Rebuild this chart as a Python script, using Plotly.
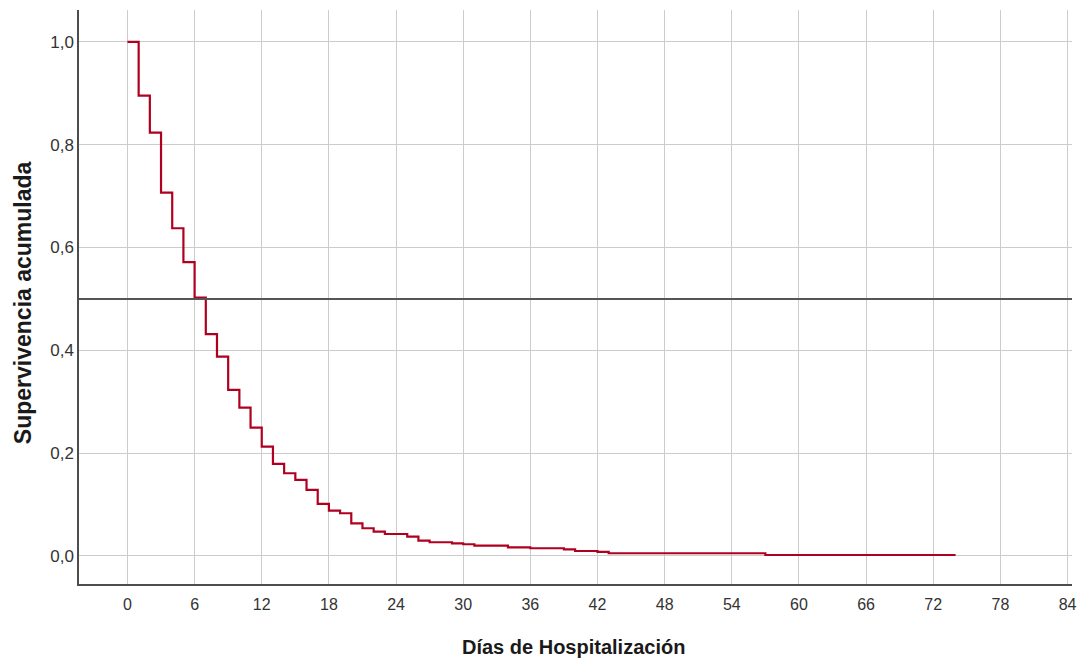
import plotly.graph_objects as go

dias = [0, 1, 2, 3, 4, 5, 6, 7, 8, 9, 10, 11, 12, 13, 14, 15, 16, 17, 18, 19,
        20, 21, 22, 23, 25, 26, 27, 29, 30, 31, 34, 36, 39, 40, 42, 43, 57, 74]
supervivencia = [1.0, 0.8955, 0.8236, 0.7068, 0.6375, 0.5714, 0.5026, 0.4315,
                 0.3877, 0.3230, 0.2885, 0.2496, 0.2126, 0.1790, 0.1609, 0.1479,
                 0.1284, 0.1012, 0.0881, 0.0831, 0.0636, 0.0539, 0.0473, 0.0428,
                 0.0375, 0.0298, 0.0267, 0.0247, 0.0228, 0.0200, 0.0169, 0.0150,
                 0.0130, 0.0097, 0.0078, 0.0053, 0.0019, 0.0019]
x_ticks = list(range(0, 85, 6))
y_ticks = [0.0, 0.2, 0.4, 0.6, 0.8, 1.0]
mediana_ref = 0.5
titulo_x = "Días de Hospitalización"
titulo_y = "Supervivencia acumulada"

fig = go.Figure()
fig.add_trace(go.Scatter(
    x=dias, y=supervivencia, mode="lines", line_shape="hv",
    line=dict(color="#b00020", width=2.2), showlegend=False, hoverinfo="x+y"))

fig.add_hline(y=mediana_ref, line=dict(color="#555555", width=2), layer="above")

fuente = "Liberation Sans, Arial, sans-serif"

fig.update_layout(
    width=1081, height=659,
    margin=dict(l=79, r=9, t=10, b=75, autoexpand=False),
    plot_bgcolor="white", paper_bgcolor="white",
    separators=",.",
    font=dict(family=fuente, size=16, color="#333333"),
    xaxis=dict(
        range=[-4.33, 84.4], tickvals=x_ticks, automargin=False,
        showgrid=True, gridcolor="#cccccc", gridwidth=1,
        showline=True, linecolor="#4d4d4d", linewidth=1.5,
        zeroline=False, ticks="", ticklabelstandoff=5,
        ticklabeloverflow="allow",
        tickfont=dict(family=fuente, size=16, color="#333333"),
    ),
    yaxis=dict(
        range=[-0.0545, 1.062], tickvals=y_ticks, tickformat=".1f", automargin=False,
        showgrid=True, gridcolor="#cccccc", gridwidth=1,
        showline=True, linecolor="#4d4d4d", linewidth=1.5,
        zeroline=False, ticks="", ticklabelstandoff=0,
        ticklabeloverflow="allow",
        tickfont=dict(family=fuente, size=17, color="#333333"),
    ),
    annotations=[
        dict(text="<b>" + titulo_x + "</b>", xref="paper", yref="paper",
             x=0.4975, y=-0.11, xanchor="center", yanchor="middle", showarrow=False,
             font=dict(family=fuente, size=20, color="#1a1a1a")),
        dict(text="<b>" + titulo_y + "</b>", xref="paper", yref="paper",
             x=-0.0564, y=0.491, xanchor="center", yanchor="middle", showarrow=False,
             textangle=-90, font=dict(family=fuente, size=23, color="#1a1a1a")),
    ],
)

# Remove the browser's default 8px body margin so the figure fills the window.
fig.write_html("out.html",
               config={"displayModeBar": False},
               post_script="document.body.style.margin='0px';document.body.style.overflow='hidden';")
